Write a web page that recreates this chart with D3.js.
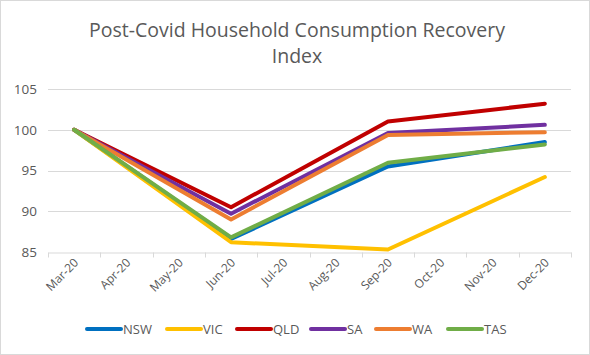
<!DOCTYPE html>
<html><head><meta charset="utf-8">
<script src="https://cdn.jsdelivr.net/npm/d3@7/dist/d3.min.js"></script>
<style>body{margin:0;background:#fff}svg{display:block}</style>
</head><body>
<svg id="c" width="590" height="355"></svg>
<script>
const months = ["Mar-20","Apr-20","May-20","Jun-20","Jul-20","Aug-20","Sep-20","Oct-20","Nov-20","Dec-20"];
const pointMonths = ["Mar-20","Jun-20","Sep-20","Dec-20"];
const NSW = [100, 86.6, 95.5, 98.5];
const VIC = [100, 86.2, 85.3, 94.2];
const QLD = [100, 90.5, 101.0, 103.2];
const SA  = [100, 89.7, 99.6, 100.6];
const WA  = [100, 89.0, 99.35, 99.7];
const TAS = [100, 86.8, 95.95, 98.2];
const seriesNames = ["NSW","VIC","QLD","SA","WA","TAS"];
const seriesValues = [NSW, VIC, QLD, SA, WA, TAS];
const colors = ["#0070C0","#FFC000","#C00000","#7030A0","#ED7D31","#70AD47"];
const yTicks = [85, 90, 95, 100, 105];

const svg = d3.select("#c");
const W = 590, H = 355;
svg.append("rect").attr("x",0.5).attr("y",0.5).attr("width",W-1).attr("height",H-1)
  .attr("fill","#fff").attr("stroke","#d9d9d9");

const m = {left:48, right:571, top:89, bottom:252};
const x = d3.scaleBand().domain(months).range([m.left, m.right]);
const y = d3.scaleLinear().domain([85,105]).range([m.bottom, m.top]);
const font = "'Open Sans', 'Liberation Sans', sans-serif";

// title
const title = svg.append("text").attr("text-anchor","middle").attr("fill","#595959")
  .style("font-family", font).style("font-size","19.5px");
title.append("tspan").attr("x",297).attr("y",37).text("Post-Covid Household Consumption Recovery");
title.append("tspan").attr("x",297).attr("y",63).text("Index");

// gridlines
svg.append("g").selectAll("line").data(yTicks.filter(t=>t!==85)).join("line")
  .attr("x1",m.left).attr("x2",m.right)
  .attr("y1",d=>Math.round(y(d))+0.5).attr("y2",d=>Math.round(y(d))+0.5)
  .attr("stroke","#d9d9d9").attr("stroke-width",1);

// y axis labels
const yAxis = d3.axisLeft(y).tickValues(yTicks).tickSize(0).tickPadding(0);
const yg = svg.append("g").attr("transform",`translate(${m.left-11},0)`).call(yAxis);
yg.select(".domain").remove();
yg.selectAll("text").attr("fill","#595959").style("font-family",font).style("font-size","13.5px");

// x axis
const xAxis = d3.axisBottom(x).tickSize(0).tickPadding(0);
const xg = svg.append("g").attr("transform",`translate(0,${Math.round(y(85))+0.5})`).call(xAxis);
xg.select(".domain").attr("stroke","#d9d9d9");
xg.selectAll("text").attr("fill","#595959").style("font-family",font).style("font-size","12px")
  .attr("text-anchor","end").attr("dy",null)
  .attr("transform","translate(5,11) rotate(-45)");
// tick marks at band edges
const edges = months.map(d=>x(d)).concat([m.right]);
xg.append("g").selectAll("line").data(edges).join("line")
  .attr("x1",d=>Math.round(d)+0.5).attr("x2",d=>Math.round(d)+0.5)
  .attr("y1",0).attr("y2",5).attr("stroke","#d9d9d9");

// lines
const cx = d=>x(d)+x.bandwidth()/2;
const line = d3.line().x(d=>cx(d.m)).y(d=>y(d.v));
seriesValues.forEach((vals,i)=>{
  const pts = pointMonths.map((mm,j)=>({m:mm, v:vals[j]}));
  svg.append("path").datum(pts).attr("d",line).attr("fill","none")
    .attr("stroke",colors[i]).attr("stroke-width",4)
    .attr("stroke-linejoin","round").attr("stroke-linecap","round");
});

// legend
const legX = [87,167,237,311,376,448];
const lg = svg.append("g");
seriesNames.forEach((n,i)=>{
  lg.append("line").attr("x1",legX[i]).attr("x2",legX[i]+34).attr("y1",329).attr("y2",329)
    .attr("stroke",colors[i]).attr("stroke-width",4).attr("stroke-linecap","round");
  lg.append("text").attr("x",legX[i]+36).attr("y",334).attr("fill","#595959")
    .style("font-family",font).style("font-size","13px").text(n);
});
</script>
</body></html>
